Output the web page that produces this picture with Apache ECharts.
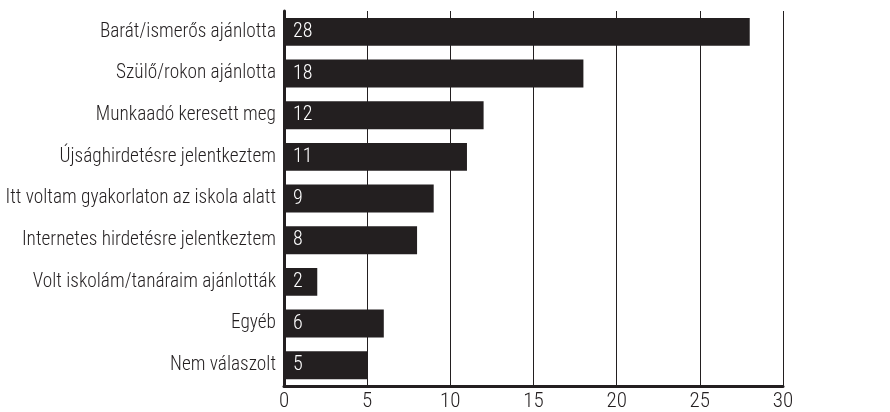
<!DOCTYPE html>
<html><head><meta charset="utf-8">
<script src="https://cdn.jsdelivr.net/npm/echarts@6/dist/echarts.min.js"></script>
<style>html,body{margin:0;padding:0;background:#fff}#c{width:890px;height:412px}</style>
</head><body><div id="c"></div>
<script>
const categories = ["Barát/ismerős ajánlotta","Szülő/rokon ajánlotta","Munkaadó keresett meg","Újsághirdetésre jelentkeztem","Itt voltam gyakorlaton az iskola alatt","Internetes hirdetésre jelentkeztem","Volt iskolám/tanáraim ajánlották","Egyéb","Nem válaszolt"];
const values = [28,18,12,11,9,8,2,6,5];
const xTicks = [0,5,10,15,20,25,30];
const FONT = "'Roboto Condensed',sans-serif";
const ink = '#231f20';
const chart = echarts.init(document.getElementById('c'));
chart.setOption({
  animation:false,
  grid:{left:284,right:107,top:11,bottom:24.5,containLabel:false},
  xAxis:{type:'value',min:0,max:30,interval:5,
    axisLine:{show:true,lineStyle:{color:ink,width:3}},
    axisTick:{show:false},
    axisLabel:{color:ink,fontFamily:FONT,fontWeight:300,fontSize:21,margin:5,formatter:v=>xTicks.includes(v)?String(v):''},
    splitLine:{show:true,lineStyle:{color:ink,width:1}}},
  yAxis:{type:'category',data:categories,inverse:true,
    axisLine:{show:true,lineStyle:{color:ink,width:3}},
    axisTick:{show:false},
    axisLabel:{color:ink,fontFamily:FONT,fontWeight:300,fontSize:19.3,margin:8}},
  series:[{type:'bar',data:values,barWidth:'67%',
    itemStyle:{color:ink},
    label:{show:true,position:'insideLeft',distance:9,color:'#fff',fontFamily:FONT,fontWeight:300,fontSize:20}}]
});
</script></body></html>
